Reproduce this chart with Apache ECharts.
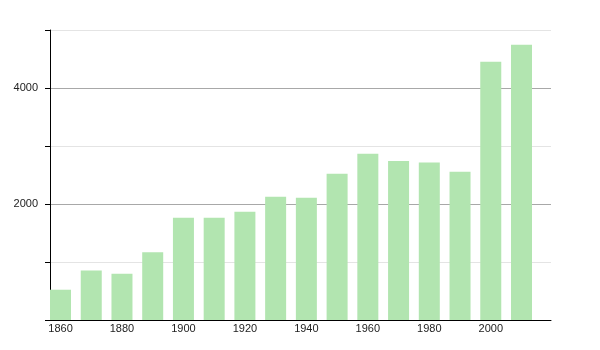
<!DOCTYPE html>
<html>
<head>
<meta charset="utf-8">
<script src="https://cdn.jsdelivr.net/npm/echarts@6/dist/echarts.min.js"></script>
<style>html,body{margin:0;padding:0;background:#fff}#c{width:600px;height:350px}</style>
</head>
<body>
<div id="c"></div>
<script>
var years = [1860,1870,1880,1890,1900,1910,1920,1930,1940,1950,1960,1970,1980,1990,2000,2010];
var population = [522,855,798,1166,1764,1762,1867,2126,2109,2522,2867,2741,2717,2557,4453,4746];
var xLabels = [1860,1880,1900,1920,1940,1960,1980,2000];
var yLabels = [2000,4000];

var chart = echarts.init(document.getElementById('c'), null, {renderer:'canvas'});
chart.setOption({
  animation:false,
  backgroundColor:'#ffffff',
  grid:{left:50,right:49,top:30,bottom:30,containLabel:false},
  xAxis:{
    type:'value', min:1856.58, max:2019.6,
    splitLine:{show:false},
    axisLine:{show:true,lineStyle:{color:'#000',width:1}},
    axisTick:{show:false},
    axisLabel:{customValues:xLabels, color:'#222', fontFamily:'Liberation Sans', fontSize:11, margin:3,
      formatter:function(v){return String(Math.round(v));}}
  },
  yAxis:{
    type:'value', min:0, max:5000, interval:1000,
    axisLine:{show:true,lineStyle:{color:'#000',width:1}},
    axisTick:{show:true,inside:false,length:5,lineStyle:{color:'#000'}},
    axisLabel:{color:'#222', fontFamily:'Liberation Sans', fontSize:11, margin:12,
      formatter:function(v){return yLabels.indexOf(v)>=0 ? String(v) : '';}},
    splitLine:{show:true,lineStyle:{color:['#a8a8a8','#e4e4e4'],width:1}}
  },
  series:[{
    type:'bar',
    data:years.map(function(y,i){return [y,population[i]];}),
    barWidth:21,
    itemStyle:{color:'#b2e5b0'}
  }]
});
</script>
</body>
</html>
